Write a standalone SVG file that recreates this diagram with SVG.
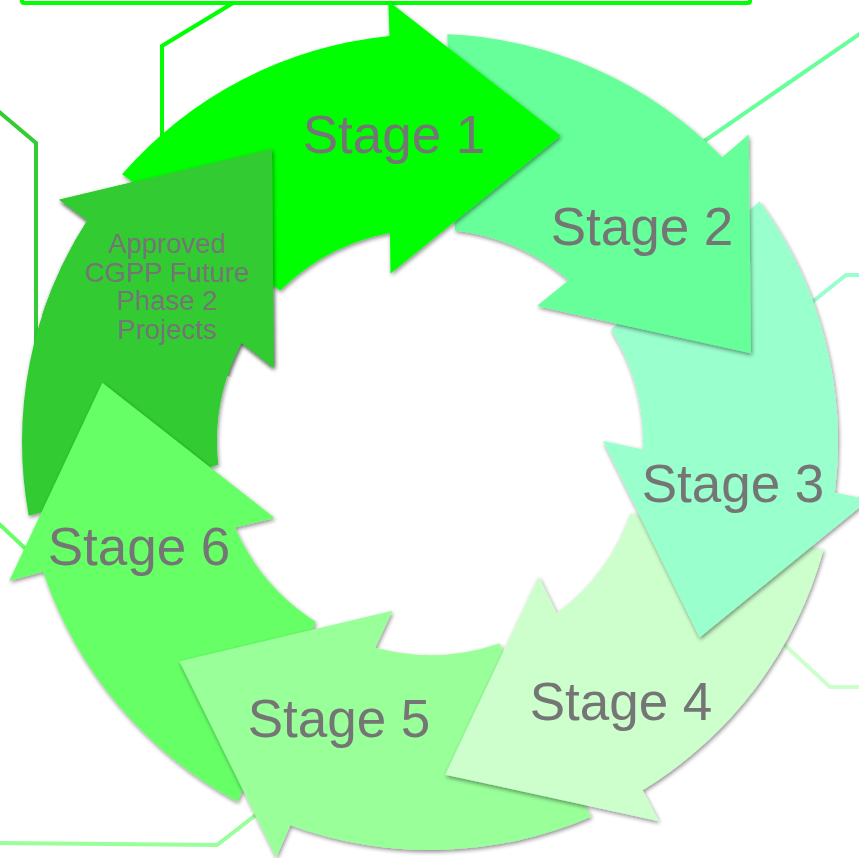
<svg xmlns="http://www.w3.org/2000/svg" xmlns:xlink="http://www.w3.org/1999/xlink" width="859" height="858" viewBox="0 0 859 858">
  <style>
    .lead { fill: none; stroke-width: 4; stroke-linejoin: miter; }
    .lbl { font-family: "Liberation Sans", Arial, sans-serif; font-size: 53px; fill: #757575; text-anchor: middle; }
    .lbl-sm { font-family: "Liberation Sans", Arial, sans-serif; font-size: 27.5px; fill: #757575; text-anchor: middle; }
    .c1 { fill: #00FF00; } .c2 { fill: #66FF99; } .c3 { fill: #99FFCC; } .c4 { fill: #CCFFCC; }
    .c5 { fill: #99FF99; } .c6 { fill: #66FF66; } .c7 { fill: #33CC33; }
  </style>
  <defs>
    <!-- one curved block arrow of the ring; centre (430,442), outer r 408, inner r 213 -->
    <path id="seg" d="M122.1,174.3 A408,408 0 0 1 389.5,36 L388.3,1 L560.6,135.7 L390.5,273.6 L390,232.8 A213,213 0 0 0 280.2,290.6 Z"/>
    <filter id="sh" x="-15%" y="-15%" width="130%" height="130%">
      <feGaussianBlur in="SourceAlpha" stdDeviation="2"/>
      <feOffset dx="1" dy="2" result="b"/>
      <feComponentTransfer><feFuncA type="linear" slope="0.45"/></feComponentTransfer>
      <feMerge><feMergeNode/><feMergeNode in="SourceGraphic"/></feMerge>
    </filter>
    <!-- wedge around the head of the last arrow, so it can sit over the first arrow's tail -->
    <clipPath id="wedge7">
      <path d="M430,442 L-120,263 L120,-300 Z"/>
    </clipPath>
  </defs>

  <rect width="859" height="858" fill="#FFFFFF"/>

  <!-- leader lines to the description boxes -->
  <g id="connectors">
    <rect x="22" y="-30" width="728" height="33" rx="2" fill="none" stroke="#00FF00" stroke-width="4"/>
    <polyline class="lead" stroke="#00FF00" points="233,3 162,46 162,150"/>
    <line class="lead" stroke="#66FF99" x1="700" y1="144" x2="864" y2="31"/>
    <polyline class="lead" stroke="#99FFCC" points="806,307 846,275 864,275"/>
    <polyline class="lead" stroke="#CCFFCC" points="776,637 830,687 864,687"/>
    <polyline class="lead" stroke="#99FF99" points="262,810 217,845 -4,843"/>
    <line class="lead" stroke="#66FF66" x1="-3" y1="522" x2="30" y2="553"/>
    <polyline class="lead" stroke="#33CC33" points="-3,110 36,143 36,345"/>
  </g>

  <g id="stage7" filter="url(#sh)"><use xlink:href="#seg" class="c7" transform="rotate(308.5714 430 442)"/></g>
  <g id="stage6" filter="url(#sh)"><use xlink:href="#seg" class="c6" transform="rotate(257.1429 430 442)"/></g>
  <g id="stage5" filter="url(#sh)"><use xlink:href="#seg" class="c5" transform="rotate(205.7143 430 442)"/></g>
  <g id="stage4" filter="url(#sh)"><use xlink:href="#seg" class="c4" transform="rotate(154.2857 430 442)"/></g>
  <g id="stage3" filter="url(#sh)"><use xlink:href="#seg" class="c3" transform="rotate(102.8571 430 442)"/></g>
  <g id="stage2" filter="url(#sh)"><use xlink:href="#seg" class="c2" transform="rotate(51.4286 430 442)"/></g>
  <g id="stage1" filter="url(#sh)"><use xlink:href="#seg" class="c1"/></g>
  <!-- head of the last arrow drawn again over the first arrow's tail -->
  <g id="stage7-head" clip-path="url(#wedge7)">
    <g filter="url(#sh)"><use xlink:href="#seg" class="c7" transform="rotate(308.5714 430 442)"/></g>
  </g>

  <g id="labels">
    <text class="lbl" x="394" y="153">Stage 1</text>
    <text class="lbl" x="642" y="245">Stage 2</text>
    <text class="lbl" x="733" y="502">Stage 3</text>
    <text class="lbl" x="621" y="720">Stage 4</text>
    <text class="lbl" x="339" y="737">Stage 5</text>
    <text class="lbl" x="139" y="565">Stage 6</text>
    <text class="lbl-sm" x="167" y="253">Approved</text>
    <text class="lbl-sm" x="167" y="281.7">CGPP Future</text>
    <text class="lbl-sm" x="167" y="310.4">Phase 2</text>
    <text class="lbl-sm" x="167" y="338.6">Projects</text>
  </g>
</svg>
